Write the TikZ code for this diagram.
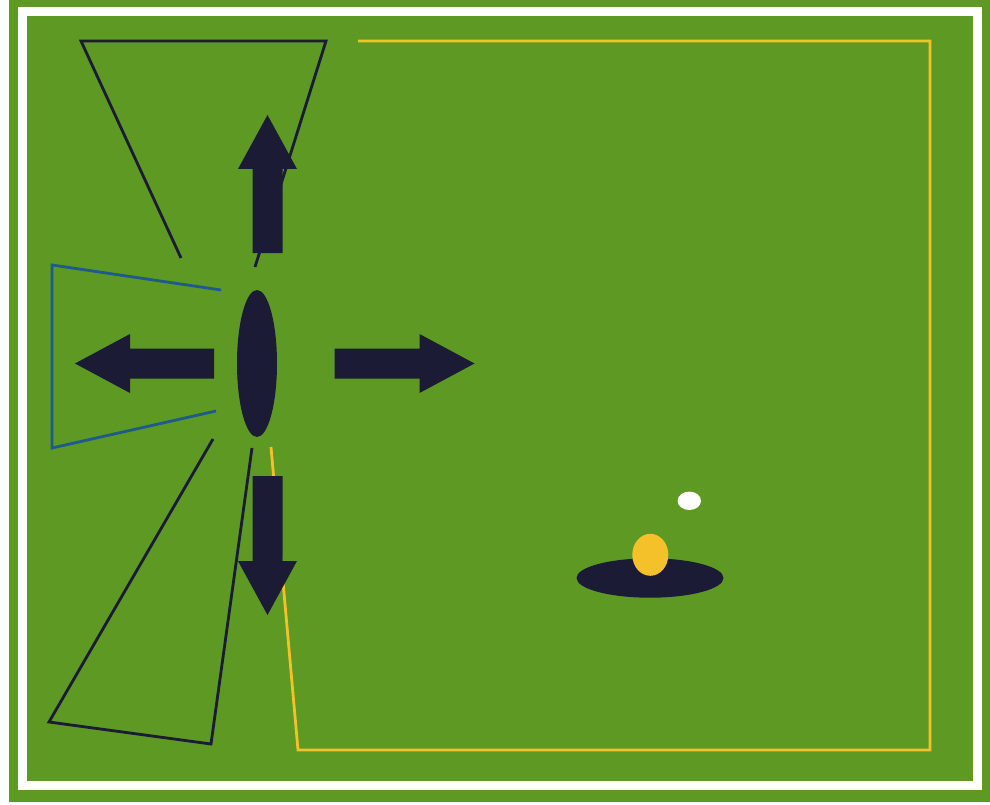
\documentclass[tikz,border=0pt]{standalone}
\begin{document}
\begin{tikzpicture}[x=1pt,y=-1pt,
  outline/.style={draw=navy,line width=2.8pt,line join=miter},
  zone/.style={draw=zoneblue,line width=2.8pt},
  lane/.style={draw=gold,line width=2.8pt},
  bigarrow/.style={fill=navy},
]
\definecolor{grass}{RGB}{93,153,35}
\definecolor{navy}{RGB}{27,27,54}
\definecolor{gold}{RGB}{245,193,43}
\definecolor{zoneblue}{RGB}{31,90,140}
\useasboundingbox (0,0) rectangle (990,805);
\fill[white] (0,0) rectangle (990,805);
\fill[grass] (8.5,0) rectangle (990,802);
\draw[white,line width=9pt] (22.5,11.5) rectangle (977.5,785.5);
% yellow lane
\draw[lane] (358,41) -- (930,41) -- (930,750) -- (298,750) -- (271,447);
% top triangle
\draw[outline] (181,258) -- (81,41) -- (326,41) -- (255,267);
% blue zone
\draw[zone] (221,290) -- (52,265) -- (52,448) -- (216,411);
% bottom triangle
\draw[outline] (213,439) -- (49,722) -- (211,744) -- (252,448);
% player
\fill[navy] (257,363.5) ellipse [x radius=20, y radius=73.5];
% arrows
\fill[bigarrow] (267.5,115) -- (297,169) -- (282.5,169) -- (282.5,253) -- (252.5,253) -- (252.5,169) -- (238,169) -- cycle;
\fill[bigarrow] (267.5,615) -- (297,561) -- (282.5,561) -- (282.5,476) -- (252.5,476) -- (252.5,561) -- (238,561) -- cycle;
\fill[bigarrow] (75,363.5) -- (130,334) -- (130,348.5) -- (214,348.5) -- (214,378.5) -- (130,378.5) -- (130,393) -- cycle;
\fill[bigarrow] (474.5,363.5) -- (419.5,334) -- (419.5,348.5) -- (334.5,348.5) -- (334.5,378.5) -- (419.5,378.5) -- (419.5,393) -- cycle;
% hole and balls
\fill[navy] (650,578) ellipse [x radius=73.5, y radius=19.7];
\fill[gold] (650.3,554.8) ellipse [x radius=18, y radius=21];
\fill[white] (689.3,500.8) ellipse [x radius=11.7, y radius=9.2];
\end{tikzpicture}
\end{document}
